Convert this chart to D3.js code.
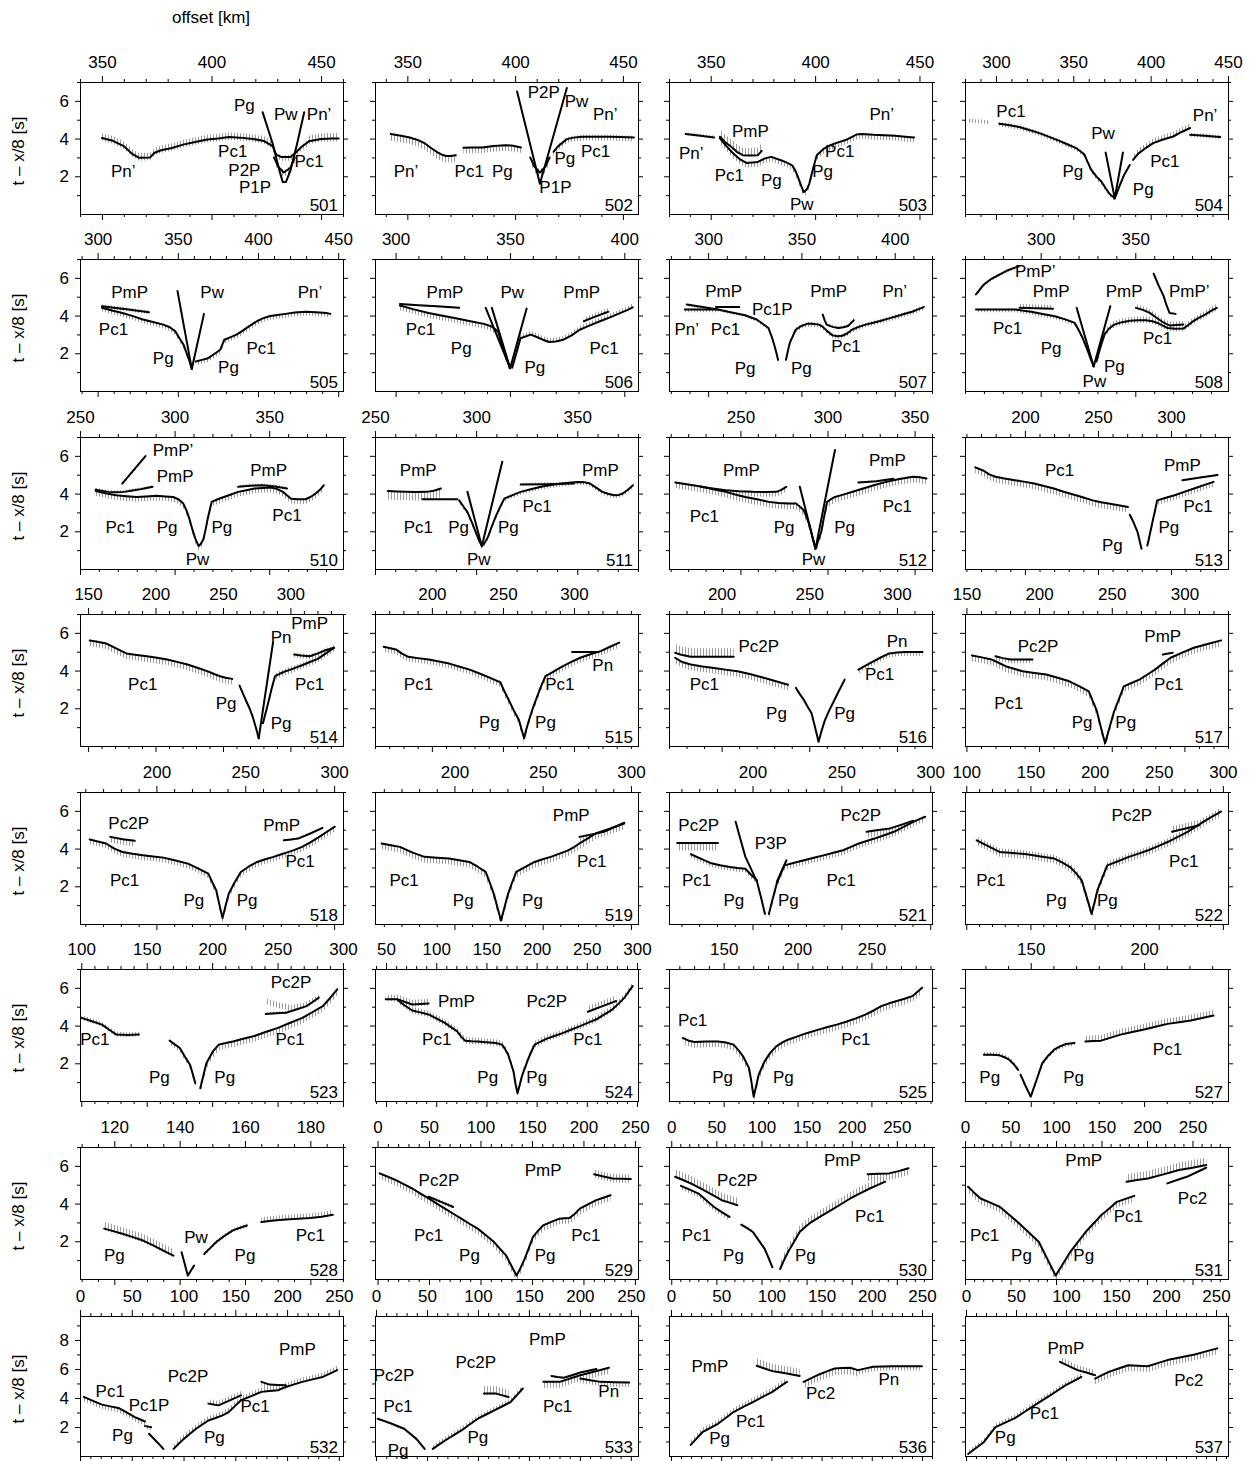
<!DOCTYPE html>
<html>
<head>
<meta charset="utf-8">
<script src="https://cdn.jsdelivr.net/npm/d3@7"></script>
<style>
  body { margin: 0; background: #fff; }
  svg text { font-family: "Liberation Sans", Arial, Helvetica, sans-serif; font-size: 17px; fill: #000; }
</style>
</head>
<body>
<svg id="fig" width="1252" height="1461"></svg>
<script>
// Reduced traveltimes (t - x/8, s) against offset (km) for each station record.
// Each trace: pts = [offset, time] along a modelled branch; band = [below, above] spread of picks (s);
// line:false means observed picks only.

const panelIds = [501,502,503,504,505,506,507,508,510,511,512,513,514,515,516,517,518,519,521,522,523,524,525,527,528,529,530,531,532,533,536,537];

const offsetRanges = [[340,460],[335,457],[330,456],[280,450],[289,453],[291,406],[279,420],[260,399],
  [250,389],[250,380],[209,360],[159,339],[144,339],[160,345],[170,320],[149,330],
  [157,305],[155,304],[153,301],[99,304],[99,300],[39,301],[113,291],[121,237],
  [109.5,190],[-2.5,253],[-2.5,289],[0,289],[0,254],[-1,257],[-2,260],[-1,262]];

const labelSteps = [50,50,50,50,50,50,50,50,50,50,50,50,50,50,50,50,50,50,50,50,50,50,50,50,20,50,50,50,50,50,50,50];
const minorSteps = [10,10,10,10,10,10,10,10,10,10,10,10,10,10,10,10,10,10,10,10,10,10,10,10,5,10,10,10,10,10,10,10];

const timeTicks = [1,2,3,4,5,6,7];
const timeTicksLast = [1,2,3,4,5,6,7,8,9];
const timeLabels = [2,4,6];
const timeLabelsLast = [2,4,6,8];

const tr501 = [
  {pts:[[350,4.03],[355,3.88],[360,3.6],[364,3.17],[367,2.98],[372,3.0],[374,3.25],[377,3.38],[382,3.5],[387,3.68],[392,3.8],[398,3.95],[403,4.0],[408,4.08],[413,4.05],[419,3.98],[424,3.87],[427.9,3.6]], band:[0.15,0.25]},
  {pts:[[427.9,3.6],[429.5,3.15],[432,3.02],[436,3.02],[438,3.2],[441,3.55],[444.5,3.86]], band:[0.2,0.1]},
  {pts:[[444.5,3.86],[450,3.98],[455,4.0],[458,4.0]], band:[0.15,0.3]},
  {pts:[[428.5,3.0],[430.5,2.5],[433,2.2],[436,2.45],[438,3.0]], band:[0.25,0.1]},
  {pts:[[423.3,5.4],[428,3.7],[431,2.3],[432.5,1.7],[434,1.7],[436,2.3],[439,3.7],[442.3,5.4]]}
];
const ph501 = [["Pg",415,5.75],["Pw",433.9,5.27],["Pn\u2019",449.1,5.27],["Pc1",409.7,3.33],["P2P",415,2.32],["P1P",419.9,1.38],["Pc1",444.5,2.8],["Pn\u2019",359.7,2.27]];

const tr502 = [
  {pts:[[342.3,4.24],[347,4.15],[351.1,4.06],[355,3.92],[358.2,3.74],[361,3.5],[363.6,3.3],[366,3.15],[368,3.08],[370,3.08],[372.5,3.12]], band:[0.35,0.05]},
  {pts:[[376,3.51],[380,3.52],[384.9,3.53],[390,3.6],[395.6,3.65],[399,3.62],[402.7,3.53]], band:[0.3,0.05]},
  {pts:[[400.9,6.5],[411.5,1.6],[424,6.68]]},
  {pts:[[407,3.0],[409,2.5],[411.5,2.2],[414,2.5],[416,3.0]], band:[0.3,0.15]},
  {pts:[[417.8,3.3],[420,3.6],[424,3.97],[427,4.05],[431.1,4.1],[437,4.1],[443.5,4.1],[449,4.08],[455.1,4.06]], band:[0.2,0.1]}
];
const ph502 = [["Pn\u2019",349.4,2.23],["Pc1",378.7,2.23],["Pg",394.1,2.23],["P2P",413.3,6.42],["Pw",428.5,5.97],["Pn\u2019",441.8,5.26],["Pc1",437.3,3.3],["Pg",423.1,2.94],["P1P",418.7,1.43]];

const tr503 = [
  {pts:[[338,4.24],[345,4.15],[351.6,4.06]], band:[0.05,0.1]},
  {pts:[[354.4,4.1],[357,3.8],[359.8,3.57],[362.5,3.3],[365.3,3.12],[369,3.1],[372.6,3.12],[374.4,3.35]], band:[0.05,0.4]},
  {pts:[[354.4,4.01],[357.5,3.6],[360.8,3.21],[364,2.9],[367.1,2.71],[372.6,2.76],[376,2.95],[379,3.03],[381,2.95],[383.6,2.85],[386,2.75],[389,2.58],[390.5,2.3],[391.8,1.96],[393.3,1.5],[394.5,1.16],[396,1.3],[397.2,1.6],[399,2.4],[400.8,3.12],[404,3.45],[407.3,3.65],[411,3.8],[414.6,3.92],[417.5,4.08],[420,4.22],[421.9,4.24],[428,4.2],[433,4.18],[438.3,4.15],[443,4.1],[447.4,4.06]], band:[0.25,0.05]}
];
const ph503 = [["Pn\u2019",340.7,3.21],["PmP",369,4.37],["Pc1",358.9,2.05],["Pg",379,1.78],["Pg",403.6,2.23],["Pw",393.6,0.53],["Pc1",411.8,3.3],["Pn\u2019",431.9,5.26]];

const tr504 = [
  {pts:[[281.5,4.95],[288,4.93],[295.6,4.86]], band:[0.1,0.1], line:false},
  {pts:[[302.1,4.79],[308,4.72],[315.1,4.61],[321,4.47],[328.1,4.29],[334,4.1],[341,3.88],[346,3.7],[351.9,3.49],[355,3.3],[357.3,3.14],[359,2.8],[361.6,2.34],[365,1.98],[368.1,1.72],[371,1.35],[373.5,1.06],[376.8,0.83]], band:[0.15,0.1]},
  {pts:[[376.8,0.83],[380,1.5],[383,2.1],[386.5,2.6]]},
  {pts:[[370.9,3.26],[376.8,0.83],[382.1,3.26]]},
  {pts:[[388.6,2.87],[392,3.2],[396,3.45],[401.6,3.76],[408,3.95],[414.6,4.11],[420,4.35],[425.5,4.56]], band:[0.05,0.25]},
  {pts:[[425.5,4.2],[435,4.15],[444.9,4.08]], band:[0.1,0.1]}
];
const ph504 = [["Pc1",309.7,5.44],["Pw",369.2,4.29],["Pn\u2019",435.2,5.21],["Pg",349.7,2.25],["Pg",395.2,1.28],["Pc1",409.2,2.78]];

const tr505 = [
  {pts:[[302.7,4.5],[310,4.42],[318,4.33],[325,4.25],[332,4.18]], band:[0.1,0.1]},
  {pts:[[302.7,4.41],[309,4.27],[315.4,4.14],[322,3.97],[328.2,3.79],[334.5,3.66],[340.9,3.52],[345,3.38],[348.5,3.16],[351,2.8],[353.6,2.45],[355.5,2.0],[357.4,1.56],[358.7,1.17]], band:[0.2,0.05]},
  {pts:[[349.8,5.3],[358.7,1.17],[366.3,4.09]]},
  {pts:[[361.2,1.56],[365,1.65],[368.9,1.74],[372.5,1.95],[376.5,2.19],[379,2.72],[383,2.86],[386.6,2.99],[390.5,3.2],[394.3,3.43],[399.3,3.7],[403,3.85],[407,3.96],[412,4.03],[417.2,4.09],[423,4.16],[429.9,4.2],[436,4.18],[442.6,4.14],[445.1,4.09]], band:[0.2,0.05]}
];
const ph505 = [["PmP",320,5.21],["Pw",371.4,5.21],["Pn\u2019",432.4,5.21],["Pc1",309.9,3.25],["Pg",340.9,1.71],["Pg",381.6,1.24],["Pc1",401.9,2.28]];

const tr506 = [
  {pts:[[301.9,4.62],[310,4.55],[318,4.49],[327.8,4.41]], band:[0.05,0.05]},
  {pts:[[301.9,4.53],[308,4.33],[314.4,4.14],[320.5,3.99],[326.9,3.84],[332.7,3.7],[338.6,3.56],[342,3.42],[344.8,3.16],[346.5,2.5],[348.4,1.74],[350.1,1.21]], band:[0.25,0.05]},
  {pts:[[339.4,4.41],[350.1,1.21]]},
  {pts:[[342.1,4.41],[350.1,1.21],[357.3,4.37]]},
  {pts:[[351,1.24],[352.8,2.0],[354.6,2.8],[359.1,2.99],[362,2.85],[364.4,2.72],[367.1,2.6],[370,2.63],[373.4,2.72],[377,2.95],[380.5,3.25],[385,3.48],[389.4,3.7],[394,3.92],[398.4,4.14],[401,4.28],[403.7,4.44]], band:[0.05,0.2]},
  {pts:[[382.3,3.7],[387,3.93],[393,4.2]], band:[0.05,0.2]}
];
const ph506 = [["PmP",321.6,5.21],["Pw",351,5.21],["PmP",381.4,5.21],["Pc1",310.9,3.25],["Pg",328.7,2.28],["Pg",360.9,1.24],["Pc1",391.2,2.28]];

const tr507 = [
  {pts:[[287.5,4.32],[296,4.32],[305.2,4.32]], band:[0.15,0.05]},
  {pts:[[288.5,4.59],[297,4.45],[305.2,4.32],[312,4.18],[319.8,4.02],[323,3.9],[326,3.79],[329,3.58],[332.3,3.34],[334,2.9],[335.4,2.45],[336.5,2.05],[337.5,1.65]], band:[0.1,0.05]},
  {pts:[[304.2,4.46],[316.7,4.46]]},
  {pts:[[341.7,1.65],[342.7,2.1],[343.7,2.54],[345.3,2.9],[346.9,3.25],[350,3.45],[353.1,3.56],[356.3,3.56],[359.4,3.52],[361.5,3.4],[363.5,3.2],[366.7,2.95],[369.3,2.9],[371.9,2.93],[374.5,3.05],[377.1,3.25],[380.7,3.4],[384.4,3.52],[388.5,3.62],[392.7,3.73],[397,3.85],[401,3.96],[405,4.08],[409.3,4.2],[412.5,4.33],[415.6,4.45]], band:[0.15,0.1]},
  {pts:[[361.4,4.05],[362.5,3.75],[363.5,3.52],[366.7,3.4],[369.8,3.34],[372.5,3.38],[375,3.45],[376.5,3.6],[378.1,3.75]], band:[0.05,0.1]}
];
const ph507 = [["PmP",308.3,5.3],["Pn\u2019",288.5,3.25],["Pc1",309.3,3.25],["Pc1P",334.4,4.32],["Pg",319.8,1.21],["Pg",350,1.21],["PmP",364.6,5.3],["Pn\u2019",400,5.3],["Pc1",373.9,2.36]];

const tr508 = [
  {pts:[[265.8,5.12],[268,5.4],[270,5.65],[274,5.95],[278.4,6.19],[283,6.42],[288.8,6.63]], band:[0.1,0.05]},
  {pts:[[265.8,4.32],[276,4.32],[286.7,4.32],[291,4.26],[295,4.2],[301,4.08],[307.5,3.96],[313,3.8],[318,3.61],[320,3.25],[322.2,2.81],[324.3,2.28],[326.3,1.74],[328,1.3]], band:[0.15,0.05]},
  {pts:[[288.8,4.41],[297,4.39],[306.5,4.36]], band:[0,0.2]},
  {pts:[[319,4.41],[328,1.3],[336.8,4.5]]},
  {pts:[[329.5,1.56],[331.5,2.3],[333.7,2.99],[336,3.3],[338.9,3.52],[343,3.65],[347.2,3.73],[351.5,3.75],[355.6,3.75],[359,3.7],[361.8,3.61],[364.5,3.47],[367.1,3.34],[371,3.3],[375.4,3.31],[378,3.5],[380.6,3.7],[384,3.9],[386.9,4.05],[390,4.25],[393.1,4.41]], band:[0.15,0.2]},
  {pts:[[350.3,4.41],[354,4.3],[357.6,4.14],[361,3.9],[363.9,3.7],[366,3.57],[368.1,3.48],[372,3.5],[375.4,3.52]], band:[0.05,0.2]},
  {pts:[[359.7,6.22],[362.3,5.6],[365,5.03],[366.5,4.55],[368.1,4.14],[371.3,4.09]]}
];
const ph508 = [["PmP\u2019",297.1,6.36],["PmP",305.5,5.3],["PmP",344.1,5.3],["PmP\u2019",378.5,5.3],["Pc1",282.5,3.34],["Pg",305.5,2.28],["Pg",338.9,1.3],["Pw",328.4,0.5],["Pc1",361.8,2.81]];

const tr510 = [
  {pts:[[272.3,4.53],[277.7,5.16],[284.6,5.99]], band:[0.1,0]},
  {pts:[[258.3,4.21],[264.8,4.09],[269,4.07],[273.4,4.09],[277,4.15],[280.9,4.21],[284.5,4.28],[288.4,4.36]], band:[0.05,0.1]},
  {pts:[[258.3,4.14],[264,4.0],[269.1,3.91],[274.5,3.86],[279.8,3.82],[285,3.85],[290.6,3.88],[295,3.85],[299.2,3.82],[302,3.7],[304.6,3.47],[306.3,3.1],[307.8,2.67],[309.4,2.1],[311,1.6],[312.7,1.21],[314,1.35],[315.3,1.6],[316.4,2.1],[317.5,2.67],[318.5,3.1],[319.6,3.56],[322.8,3.7],[326.1,3.82],[329.8,3.95],[333.6,4.09],[338,4.18],[342.2,4.27],[346.5,4.3],[350.8,4.32],[354,4.25],[357.3,4.09],[359.5,3.9],[361.6,3.73],[365,3.7],[369.1,3.7],[371.8,3.82],[374.5,4.0],[376.8,4.2],[378.8,4.44]], band:[0.25,0.05]},
  {pts:[[333.6,4.36],[340,4.42],[346.5,4.44],[353,4.38],[359.4,4.27]], band:[0.05,0.1]}
];
const ph510 = [["PmP\u2019",299.2,6.26],["PmP",300.3,4.89],["PmP",349.7,5.24],["Pc1",271.2,2.22],["Pg",296,2.22],["Pg",325,2.22],["Pw",312.1,0.53],["Pc1",359.4,2.84]];

const tr511 = [
  {pts:[[256.3,4.14],[261,4.11],[265.4,4.09],[270,4.08],[275.5,4.09],[279,4.15],[282.6,4.27]], band:[0.45,0]},
  {pts:[[273.5,3.7],[282,3.7],[290.7,3.7]], band:[0.05,0.05]},
  {pts:[[291.6,3.64],[293.8,3.3],[295.7,3.02],[297.8,2.5],[299.8,1.96],[301.3,1.55],[302.8,1.21],[304.3,1.4],[305.8,1.69],[307.9,2.3],[309.9,2.84],[311.9,3.3],[313.9,3.73],[318,3.92],[322,4.09],[327,4.23],[332.1,4.36],[337,4.45],[342.2,4.53],[346,4.58],[350.3,4.62],[353.5,4.6],[356.3,4.53],[359.5,4.3],[362.4,4.09],[365.5,3.98],[368.4,3.91],[370.5,3.93],[372.5,4.0],[375,4.2],[377.5,4.44]], band:[0.15,0.05]},
  {pts:[[322,4.48],[335,4.5],[348.2,4.53]], band:[0.05,0.1]},
  {pts:[[295.7,4.09],[302.8,1.21],[312.9,5.69]]}
];
const ph511 = [["PmP",271.4,5.24],["PmP",361.4,5.24],["Pc1",271.4,2.22],["Pg",291.3,2.22],["Pg",315.9,2.22],["Pw",301.3,0.53],["Pc1",330.1,3.29]];

const tr512 = [
  {pts:[[227,4.36],[234,4.27],[241.6,4.18],[249,4.12],[257.3,4.09],[264,4.08],[270.7,4.09],[273.5,4.2],[276.3,4.36]], band:[0.25,0.05]},
  {pts:[[212.6,4.59],[220,4.48],[228.2,4.36],[235,4.22],[241.6,4.09],[247,3.95],[252.8,3.82],[259.5,3.7],[266.2,3.56],[272,3.5],[277.4,3.47],[281.9,3.47],[284.2,3.3],[286.4,3.11],[288,2.75],[289.7,2.31],[291.5,1.65],[293.1,1.07],[294.7,1.5],[296.4,1.96],[298,2.75],[299.8,3.56],[302,3.7],[304.3,3.82],[310,3.97],[315.4,4.12],[321,4.28],[326.6,4.44],[332,4.58],[337.8,4.71],[343,4.8],[349,4.89],[353,4.86],[356.8,4.8]], band:[0.3,0.05]},
  {pts:[[284.1,4.36],[293.1,1.07],[304.3,6.31]]},
  {pts:[[317.7,4.59],[328,4.65],[337.8,4.78]], band:[0.05,0.05]}
];
const ph512 = [["PmP",250.6,5.24],["PmP",334.4,5.78],["Pc1",229.3,2.76],["Pg",275.1,2.22],["Pg",309.8,2.22],["Pw",292,0.53],["Pc1",340.1,3.29]];

const tr513 = [
  {pts:[[166,5.39],[171.8,5.21],[175.5,5.02],[179.8,4.89],[186,4.8],[193.1,4.71],[200,4.62],[206.4,4.53],[213,4.4],[219.8,4.27],[226.5,4.1],[233.1,3.95],[240,3.79],[246.4,3.64],[252,3.54],[257.2,3.47],[264,3.38],[270.5,3.29]], band:[0.3,0.05]},
  {pts:[[271.8,2.88],[274.5,2.45],[277.1,1.96],[278.5,1.5],[279.8,1.07]], band:[0.05,0.05]},
  {pts:[[283.8,1.24],[285.8,1.95],[287.8,2.67],[289.2,3.15],[290.5,3.64],[296.5,3.78],[302.5,3.91],[309,4.09],[315.8,4.27],[322.5,4.45],[329.1,4.62]], band:[0.25,0.05]},
  {pts:[[307.8,4.71],[320,4.85],[331.8,4.98]], band:[0.05,0.05]}
];
const ph513 = [["Pc1",223.8,5.24],["PmP",307.8,5.51],["Pc1",318.5,3.29],["Pg",298.5,2.22],["Pg",259.8,1.24]];

const tr514 = [
  {pts:[[151.2,5.6],[157,5.53],[163.3,5.44],[170,5.2],[178.4,4.91],[186,4.83],[193.5,4.76],[201,4.68],[208.6,4.59],[216,4.46],[223.7,4.32],[231,4.15],[238.8,3.96],[243,3.83],[247.8,3.7],[252,3.62],[256.9,3.56]], band:[0.3,0.05]},
  {pts:[[262.3,3.2],[265,2.75],[267.4,2.36],[270,1.95],[272,1.56],[274.5,0.95],[276.5,0.41]], band:[0.05,0.05]},
  {pts:[[279.6,1.21],[282,1.85],[284.1,2.45],[286.3,3.1],[288.6,3.7],[292,3.83],[296.2,3.96],[302,4.1],[308.2,4.27],[314,4.44],[320.3,4.62],[326,4.9],[332.4,5.21]], band:[0.2,0.15]},
  {pts:[[276.5,0.41],[287.1,5.48]]},
  {pts:[[302.8,4.85],[308,4.8],[314.3,4.76],[320,4.9],[326,5.08],[332.4,5.21]], band:[0.15,0.1]}
];
const ph514 = [["Pn",293.1,5.74],["PmP",314.3,6.51],["Pc1",190.5,3.25],["Pc1",314.3,3.25],["Pg",252.3,2.28],["Pg",293.1,1.21]];

const tr515 = [
  {pts:[[166.1,5.26],[170,5.2],[174.7,5.12],[179,4.9],[183.4,4.73],[190,4.66],[197.8,4.59],[205,4.48],[212.2,4.37],[219,4.22],[226.6,4.05],[234,3.83],[241,3.61],[245,3.48],[248.2,3.38],[251,2.9],[254,2.45],[257.5,1.9],[261.2,1.39],[263,0.9],[264.9,0.41],[266.5,0.9],[268.4,1.39],[271,2.0],[274.1,2.63],[277,3.2],[279.9,3.7],[285,3.92],[290,4.14],[297,4.42],[304.4,4.68],[311,4.85],[318.8,5.03],[325,5.25],[331.8,5.48]], band:[0.25,0.05]},
  {pts:[[298.6,4.98],[308,4.98],[317.4,4.98]]}
];
const ph515 = [["Pc1",190.6,3.25],["Pc1",290,3.25],["Pn",320.2,4.27],["Pg",240.5,1.24],["Pg",279.9,1.24]];

const tr516 = [
  {pts:[[173.5,4.94],[177,4.84],[182.4,4.73],[195,4.73],[206.9,4.73]], band:[0.05,0.45]},
  {pts:[[173.5,4.68],[177.5,4.45],[182.4,4.32],[189,4.22],[195.7,4.14],[202,4.05],[209.1,3.96],[216,3.82],[222.4,3.66],[230,3.46],[237.9,3.25]], band:[0.3,0.05]},
  {pts:[[242.4,3.08],[244.6,2.75],[246.9,2.45],[249,2.1],[251.3,1.74],[253.3,1.0],[255.3,0.23],[257,0.8],[259,1.39],[261.2,1.85],[263.5,2.28],[266.8,2.9],[270.2,3.52]], band:[0.05,0.05]},
  {pts:[[278,4.05],[282.4,4.28],[286.8,4.5],[291.3,4.72],[295.7,4.91],[300,4.96],[304.6,4.98],[309.6,4.98],[314.6,4.98]], band:[0.2,0.05]}
];
const ph516 = [["Pc2P",221.2,5.3],["Pn",300.1,5.56],["Pc1",190.2,3.25],["Pc1",290.1,3.79],["Pg",231.3,1.74],["Pg",270.2,1.74]];

const tr517 = [
  {pts:[[153.8,4.8],[160.5,4.7],[167.2,4.59],[172.5,4.4],[178,4.2],[183.3,4.08],[188.6,3.96],[196.7,3.87],[204.8,3.79],[212.8,3.62],[220.8,3.43],[227.5,3.18],[234.2,2.9],[236.8,2.4],[239.5,1.92],[242.5,1.0],[245.4,0.14],[248.5,1.0],[251.6,1.83],[255,2.5],[258.3,3.16],[263.6,3.34],[269,3.52],[274.3,3.78],[279.7,4.05],[285.1,4.37],[290.5,4.68],[298.5,4.95],[306.5,5.21],[316,5.41],[325.3,5.6]], band:[0.3,0.05]},
  {pts:[[169.9,4.76],[175,4.66],[180.6,4.59],[188,4.59],[195.4,4.59]], band:[0.2,0.05]},
  {pts:[[285.1,4.85],[291.9,4.94]]}
];
const ph517 = [["Pc2P",199.3,5.3],["PmP",285.1,5.83],["Pc1",179.2,2.28],["Pc1",289.2,3.25],["Pg",229.6,1.24],["Pg",259.6,1.24]];

const tr518 = [
  {pts:[[174,4.62],[181,4.5],[187.8,4.41]], band:[0.3,0.05]},
  {pts:[[162.5,4.48],[167,4.38],[171.7,4.27],[176.3,4.0],[180.9,3.82],[186.6,3.72],[192.4,3.64],[198.1,3.58],[203.9,3.52],[210.8,3.37],[217.7,3.2],[223.4,2.95],[229.2,2.67],[231.5,2.2],[233.7,1.78],[235.5,1.0],[237.2,0.32],[239,1.0],[240.7,1.6],[244,2.2],[247.5,2.76],[252,3.05],[256.7,3.29],[261.3,3.43],[265.9,3.56],[269.4,3.67],[272.8,3.77],[277.4,3.92],[282,4.09],[286.6,4.33],[291.2,4.59],[295.8,4.88],[300.4,5.16]], band:[0.25,0.05]},
  {pts:[[271.7,4.44],[275.7,4.48],[279.7,4.53],[286.6,4.8],[293.5,5.1]], band:[0.05,0.05]}
];
const ph518 = [["Pc2P",184.4,5.33],["PmP",270.5,5.24],["Pc1",182.1,2.31],["Pc1",280.9,3.29],["Pg",221.1,1.24],["Pg",251,1.24]];

const tr519 = [
  {pts:[[158.7,4.27],[163.9,4.18],[169.1,4.09],[176,3.8],[183,3.56],[190,3.51],[196.9,3.47],[202.7,3.38],[208.4,3.29],[213,3.05],[217.7,2.76],[220,2.2],[222.3,1.6],[224.3,0.9],[226.4,0.18],[228.4,0.9],[230.4,1.6],[232.7,2.2],[235,2.76],[240.2,3.03],[245.4,3.29],[250,3.43],[254.6,3.56],[259.2,3.72],[263.8,3.88],[267.3,4.05],[270.8,4.27],[275.4,4.53],[280,4.8],[288,5.06],[296.2,5.33]], band:[0.3,0.05]},
  {pts:[[270.8,4.62],[277.7,4.75],[284.7,4.89],[290.5,5.13],[296.2,5.37]], band:[0.2,0.05]}
];
const ph519 = [["PmP",266.2,5.78],["Pc1",171.5,2.31],["Pc1",277.8,3.29],["Pg",205,1.24],["Pg",244.2,1.24]];

const tr521 = [
  {pts:[[157.6,4.3],[169,4.3],[180.6,4.3]], band:[0.4,0.05]},
  {pts:[[165.3,3.7],[170.8,3.47],[176.2,3.24],[181.7,3.12],[187.2,3.02],[191.6,2.97],[196,2.93],[199.3,2.6],[202.6,2.31]], band:[0.2,0.05]},
  {pts:[[190.5,5.42],[193.2,4.5],[196,3.56],[199.3,2.9],[202.6,2.22],[204.8,1.4],[207,0.53]], band:[0.05,0.05]},
  {pts:[[209.2,0.53],[211.4,1.35],[213.6,2.13],[215.8,2.65],[218,3.11],[223.5,3.25],[229,3.38],[234.5,3.51],[240,3.64],[245.5,3.78],[251,3.91],[255.4,4.09],[259.8,4.27],[264.2,4.4],[268.6,4.53],[274.1,4.71],[279.6,4.89],[285,5.15],[290.5,5.42],[293.9,5.56],[297.2,5.69]], band:[0.25,0.05]},
  {pts:[[264.2,4.89],[270.8,4.98],[277.4,5.07],[284,5.27],[290.5,5.48]], band:[0.3,0.05]},
  {pts:[[219.1,3.38],[213.6,2.22]]}
];
const ph521 = [["Pc2P",169.7,5.24],["P3P",210.3,4.27],["Pc2P",260.9,5.78],["Pc1",168.5,2.31],["Pc1",249.9,2.31],["Pg",189.5,1.24],["Pg",220.2,1.24]];

const tr522 = [
  {pts:[[108.1,4.44],[117,4.13],[125.9,3.82],[136.5,3.76],[147.2,3.7],[158,3.58],[168.7,3.47],[175,3.25],[180.9,3.02],[185.5,2.7],[190,2.31],[194,1.4],[197.7,0.53],[200,1.15],[202.2,1.78],[206,2.45],[209.9,3.11],[218.3,3.33],[226.7,3.56],[234.3,3.73],[241.9,3.91],[249.6,4.13],[257.3,4.36],[264.9,4.62],[272.5,4.89],[278.6,5.15],[284.7,5.42],[291.6,5.69],[298.5,5.96]], band:[0.25,0.2]},
  {pts:[[260.3,4.89],[271,5.06],[281.6,5.24]], band:[0.05,0.3]}
];
const ph522 = [["Pc2P",229.1,5.78],["Pc1",269.5,3.29],["Pc1",119.2,2.31],["Pg",170.1,1.24],["Pg",209.9,1.24]];

const tr523 = [
  {pts:[[100.2,4.41],[108,4.23],[115.8,4.05],[121.3,3.78],[126.8,3.52],[135.4,3.5],[144,3.52]], band:[0.1,0.15]},
  {pts:[[167.5,3.2],[171.4,3.0],[175.3,2.81],[179.2,2.35],[183.1,1.92],[185.1,1.45],[187.1,0.94]], band:[0.2,0.05]},
  {pts:[[190.9,0.68],[193.3,1.35],[195.6,2.0],[200.3,2.6],[205,2.99],[210.5,3.08],[215.9,3.16],[223.7,3.3],[231.5,3.43],[240.9,3.66],[250.3,3.88],[259.7,4.15],[269,4.41],[276.8,4.72],[284.6,5.03],[290,5.45],[295.6,5.92]], band:[0.3,0.05]},
  {pts:[[240.9,4.62],[248.7,4.65],[256.5,4.68],[264.3,4.85],[272.1,5.03],[276.8,5.25],[281.5,5.48]], band:[0.05,0.1]},
  {pts:[[240.9,5.3],[250,5.1],[260,4.95],[270,5.05],[281.5,5.48]], band:[0.15,0.15], line:false}
];
const ph523 = [["Pc2P",260.3,6.28],["Pc1",110.3,3.25],["Pc1",259.6,3.25],["Pg",159.6,1.24],["Pg",209.6,1.24]];

const tr524 = [
  {pts:[[49.7,5.39],[61.9,5.39],[69,5.25],[76.1,5.12],[84,5.14],[92.4,5.17]], band:[0.1,0.25]},
  {pts:[[61.9,5.33],[69,5.05],[76.1,4.8],[84,4.7],[92.4,4.59],[100.5,4.37],[108.6,4.14],[114.7,3.92],[120.8,3.7],[125,3.4],[128.9,3.2],[135,3.17],[141.2,3.16],[150,3.12],[159.4,3.08],[165.5,2.99],[168.6,2.75],[171.7,2.45],[174.4,2.0],[177,1.56],[179,0.9],[181,0.41],[183.4,0.9],[185.8,1.39],[189,1.85],[192,2.28],[195,2.65],[198.1,2.99],[204,3.15],[210.2,3.31],[218.4,3.46],[226.6,3.61],[234.7,3.79],[242.8,3.96],[250.9,4.14],[259.1,4.32],[267.2,4.58],[275.3,4.85],[281.4,5.15],[287.5,5.48],[295.7,6.1]], band:[0.15,0.2]},
  {pts:[[251,4.73],[257,4.85],[263.1,4.98],[271,5.14],[279.3,5.3]], band:[0.05,0.3]}
];
const ph524 = [["PmP",120,5.3],["Pc2P",210.2,5.3],["Pc1",100.5,3.25],["Pc1",251,3.25],["Pg",151.3,1.24],["Pg",200.1,1.24]];

const tr525 = [
  {pts:[[122.4,3.34],[126.3,3.2],[130.3,3.13],[138,3.15],[146.1,3.16],[151.5,3.1],[156.7,2.99],[160,2.7],[163.2,2.36],[165.2,2.05],[167.2,1.74],[168.8,1.0],[170.3,0.23],[172,0.8],[173.7,1.39],[175.7,1.75],[177.7,2.1],[181.5,2.55],[185.6,2.9],[189.5,3.1],[193.5,3.25],[200,3.43],[206.7,3.61],[213,3.76],[219.8,3.91],[226.5,4.05],[232.9,4.2],[239.5,4.38],[246.2,4.59],[251.5,4.8],[256.7,5.03],[262,5.18],[267.2,5.3],[272.5,5.42],[277.7,5.56],[281,5.78],[284.3,6.01]], band:[0.3,0.05]}
];
const ph525 = [["Pc1",129,4.27],["Pc1",239.5,3.25],["Pg",149.3,1.24],["Pg",190.4,1.24]];

const tr527 = [
  {pts:[[129.3,2.45],[132.8,2.45],[136.2,2.42],[138.4,2.32],[140.5,2.19],[142.5,1.95],[144.4,1.65]], band:[0.05,0.15]},
  {pts:[[145.5,1.4],[147.5,0.85],[150,0.23],[152.5,1.1],[155.1,2.01],[157.7,2.4],[160.3,2.72],[162.9,2.9],[165.5,3.02],[169.3,3.08]], band:[0.15,0.05]},
  {pts:[[174.1,3.16],[177.5,3.18],[181,3.2],[185.3,3.36],[189.6,3.52],[194.8,3.66],[200,3.79],[205,3.94],[210.3,4.09],[215.4,4.18],[220.6,4.27],[225.6,4.4],[230.6,4.53]], band:[0.05,0.3]}
];
const ph527 = [["Pc1",210.3,2.72],["Pg",131.9,1.24],["Pg",168.9,1.24]];

const tr528 = [
  {pts:[[116.9,2.67],[119.7,2.54],[122.5,2.4],[125.7,2.22],[128.8,2.04],[131.9,1.78],[135,1.51],[138.1,1.24]], band:[0.1,0.35]},
  {pts:[[140.6,1.42],[142.5,0.18],[144.4,0.71]]},
  {pts:[[147.5,1.33],[149.4,1.65],[151.2,1.96],[153.8,2.3],[156.3,2.58],[158.5,2.72],[160.6,2.84]], band:[0.1,0.1]},
  {pts:[[165,3.02],[168.8,3.1],[172.5,3.16],[176.2,3.2],[180,3.24],[183.5,3.3],[186.9,3.41]], band:[0.05,0.25]}
];
const ph528 = [["Pw",145,2.22],["Pg",120,1.24],["Pg",160,1.24],["Pc1",180,2.31]];

const tr529 = [
  {pts:[[2,5.6],[10,5.42],[17.8,5.24],[25.8,5.02],[33.7,4.8],[41.7,4.53],[49.6,4.27],[57.5,4.0],[65.5,3.73],[73.5,3.46],[81.4,3.2],[89.3,2.93],[97.3,2.67],[105.2,2.32],[113.2,1.96],[119,1.6],[125,1.24],[130,0.7],[135,0.18],[139,0.6],[142.9,1.07],[147,1.65],[150.9,2.22],[155.8,2.55],[160.8,2.84],[168.8,3.03],[176.7,3.2],[181.6,3.22],[186.6,3.24],[191.5,3.45],[196.5,3.73],[204.4,3.96],[212.4,4.18],[219.4,4.31],[226.3,4.44]], band:[0.3,0.05]},
  {pts:[[49.6,4.36],[61.6,4.09],[73.5,3.82]], band:[0.1,0.1]},
  {pts:[[210.4,5.55],[219.4,5.44],[228.3,5.33],[237.2,5.31],[246.1,5.3]], band:[0.2,0.25]}
];
const ph529 = [["Pc2P",59.6,5.24],["PmP",160.8,5.78],["Pc1",49.6,2.31],["Pc1",202.4,2.31],["Pg",89.3,1.24],["Pg",162.8,1.24]];

const tr530 = [
  {pts:[[4.3,5.42],[13,5.25],[21.6,5.07],[32.4,4.8],[43.1,4.53],[49.6,4.35],[56,4.18],[64.6,4.05],[73.3,3.91]], band:[0.05,0.4]},
  {pts:[[10.7,4.94],[20.5,4.74],[30.2,4.53],[38.8,4.17],[47.4,3.82],[56,3.55],[64.6,3.29]], band:[0.2,0.05]},
  {pts:[[77.6,2.88],[84,2.7],[90.5,2.49],[97,2.05],[103.5,1.6],[108,1.1],[112.1,0.62]], band:[0.05,0.1]},
  {pts:[[120.7,0.53],[125,1.0],[129.3,1.42],[135.8,1.95],[142.3,2.49],[148.7,2.77],[155.2,3.02],[166,3.33],[176.8,3.64],[187.6,3.95],[198.4,4.27],[209.2,4.54],[220,4.8],[228.5,4.98],[237.1,5.16]], band:[0.05,0.35]},
  {pts:[[217.7,5.55],[229.6,5.58],[241.4,5.6],[252,5.72],[263,5.87]], band:[0.35,0.05]}
];
const ph530 = [["PmP",189.7,6.31],["Pc2P",73.3,5.24],["Pc1",28,2.31],["Pc1",220,3.29],["Pg",69,1.24],["Pg",148.7,1.24]];

const tr531 = [
  {pts:[[3.4,4.89],[10,4.58],[17.1,4.27],[27.8,4.05],[38.5,3.82],[49.2,3.38],[59.9,2.93],[70.5,2.45],[81.2,1.96],[90.4,1.07],[99.6,0.18],[107.5,0.8],[115.5,1.42],[124,1.95],[132.5,2.49],[141,2.93],[149.6,3.38],[158.2,3.73],[166.8,4.09],[176.4,4.25],[186,4.41]], band:[0.3,0.05]},
  {pts:[[177.5,5.16],[189,5.25],[201,5.33],[218,5.55],[235.1,5.78],[250,5.9],[265.1,6.04]], band:[0.05,0.4]},
  {pts:[[222.3,5.07],[233,5.25],[243.8,5.42],[254.5,5.66],[265.1,5.9]]}
];
const ph531 = [["PmP",130.5,6.31],["Pc2",250,4.27],["Pc1",179.6,3.29],["Pc1",21.5,2.31],["Pg",62.1,1.24],["Pg",130.5,1.24]];

const tr532 = [
  {pts:[[3.6,4.07],[12.5,3.8],[21.3,3.54],[29.2,3.42],[37.1,3.31],[45,3.0],[52.9,2.68],[57.9,2.53],[62.8,2.38]], band:[0.3,0.05]},
  {pts:[[62.8,2.06],[68.7,1.99]], band:[0.2,0.1]},
  {pts:[[66.7,1.53],[70.6,1.24],[74.6,0.95],[77.6,0.72],[80.5,0.49]]},
  {pts:[[90.4,0.49],[95.3,0.84],[100.3,1.18],[106.2,1.53],[112.1,1.88],[118,2.16],[124,2.45],[130.9,2.62],[137.7,2.8],[143.7,3.03],[149.6,3.44],[155.5,3.84],[165.4,4.13],[175.2,4.42],[183.2,4.48],[191.1,4.53],[198.9,4.76],[206.8,4.94],[214.7,5.11],[224.6,5.28],[234.4,5.45],[241.4,5.68],[248.3,5.92]], band:[0.05,0.3]},
  {pts:[[124,3.61],[128.9,3.55],[133.8,3.49],[144.7,3.84],[155.5,4.18]], band:[0.05,0.3]},
  {pts:[[175.2,5.11],[183.2,4.92],[191,4.9],[198.9,4.88]], band:[0.3,0.05]}
];
const ph532 = [["PmP",210,7.37],["Pc2P",104.3,5.45],["Pc1",29.2,4.42],["Pc1P",66.7,3.49],["Pc1",169.2,3.38],["Pg",41,1.41],["Pg",129.8,1.3]];

const tr533 = [
  {pts:[[1.6,2.57],[8.5,2.4],[15.5,2.22],[21.5,2.05],[27.6,1.88],[33.6,1.53],[39.6,1.18],[43.7,0.83],[47.7,0.49]], band:[0.1,0.05]},
  {pts:[[55.7,0.49],[61.7,0.78],[67.8,1.07],[75.8,1.42],[83.8,1.76],[91.8,2.17],[99.9,2.57],[108,2.86],[116,3.15],[124,3.43],[132,3.72],[138,4.18],[144,4.65]], band:[0.05,0.25]},
  {pts:[[105.9,4.3],[117.9,4.3],[124,4.18],[130,4.07]], band:[0.1,0.5]},
  {pts:[[164.2,5.11],[172.2,5.11],[180.3,5.11],[190.4,5.34],[200.4,5.57],[214.5,5.82],[228.5,6.08]], band:[0.4,0.05]},
  {pts:[[172.1,5.52],[178,5.45],[184.2,5.39],[192.3,5.57],[200.4,5.76],[208.3,5.88],[216.2,5.99]], band:[0.05,0.05]},
  {pts:[[200.4,5.34],[210.3,5.22],[220.3,5.11],[234.3,5.08],[248.4,5.06]], band:[0.3,0.05]}
];
const ph533 = [["Pc2P",17.6,5.52],["Pc1",21.6,3.38],["Pg",21.6,0.37],["Pc2P",97.8,6.45],["PmP",168.1,8.0],["Pc1",178.1,3.38],["Pn",228.3,4.42],["Pg",99.9,1.3]];

const tr536 = [
  {pts:[[19.6,0.77],[25.4,1.2],[31.2,1.64],[39,1.93],[46.7,2.22],[54.5,2.62],[62.3,3.03],[72,3.38],[81.6,3.72],[91.3,4.07],[101,4.42],[108.2,4.77],[115.5,5.11]], band:[0.05,0.3]},
  {pts:[[85.5,6.22],[93.2,6.03],[101,5.85],[108.2,5.77],[115.5,5.69],[121.8,5.6],[128.2,5.52]], band:[0.05,0.5]},
  {pts:[[132.1,5.11],[139.8,5.37],[147.5,5.62],[155.2,5.83],[163,6.03],[170.7,6.06],[178.4,6.08],[186.3,5.92]], band:[0.45,0.05]},
  {pts:[[186.3,5.92],[193.9,6.04],[201.5,6.15],[211,6.17],[220.8,6.19],[235.4,6.19],[250,6.19]], band:[0.3,0.05]}
];
const ph536 = [["PmP",38.7,6.19],["Pc1",79.3,2.38],["Pg",48.4,1.23],["Pc2",149.1,4.3],["Pn",217,5.29]];

const tr537 = [
  {pts:[[2.1,0.14],[10,0.55],[17.8,0.95],[23.6,1.47],[29.5,1.99],[39.2,2.3],[49,2.61],[58.7,3.05],[68.5,3.49],[76.3,3.84],[84.2,4.18],[92,4.53],[99.8,4.88],[107.6,5.16],[115.4,5.45]], band:[0.05,0.25]},
  {pts:[[94,6.49],[102.8,6.2],[111.5,5.92],[120.3,5.75],[129.1,5.57]], band:[0.05,0.35]},
  {pts:[[129.1,5.34],[136,5.57],[142.8,5.8],[152.5,6.03],[162.3,6.26],[172,6.22],[181.8,6.19],[191.6,6.4],[201.4,6.61],[215,6.8],[228.7,7.0],[240,7.21],[251.3,7.42]], band:[0.4,0.05]}
];
const ph537 = [["PmP",99.8,7.42],["Pc1",78.3,2.91],["Pg",39.2,1.3],["Pc2",222.8,5.22]];

const traceSets = [tr501,tr502,tr503,tr504,tr505,tr506,tr507,tr508,tr510,tr511,tr512,tr513,tr514,tr515,tr516,tr517,
  tr518,tr519,tr521,tr522,tr523,tr524,tr525,tr527,tr528,tr529,tr530,tr531,tr532,tr533,tr536,tr537];
const phaseSets = [ph501,ph502,ph503,ph504,ph505,ph506,ph507,ph508,ph510,ph511,ph512,ph513,ph514,ph515,ph516,ph517,
  ph518,ph519,ph521,ph522,ph523,ph524,ph525,ph527,ph528,ph529,ph530,ph531,ph532,ph533,ph536,ph537];

// ---- layout ----
const colLeft = [80, 375, 669, 965];
const rowTop = [82, 259, 437, 614, 792, 969, 1147, 1316];
const panelW = 263;
const FONT = '"Liberation Sans", Arial, Helvetica, sans-serif';

const svg = d3.select("#fig");
const defs = svg.append("defs");

// vertical hatch used for the observed picks
const pat = defs.append("pattern").attr("id", "picks")
  .attr("patternUnits", "userSpaceOnUse").attr("width", 3).attr("height", 20);
pat.append("line").attr("x1", 1.5).attr("x2", 1.5).attr("y1", 0).attr("y2", 20)
  .attr("stroke", "#9c9c9c").attr("stroke-width", 1);

svg.append("text").attr("x", 211).attr("y", 17).attr("text-anchor", "middle")
  .attr("dominant-baseline", "central").text("offset [km]");

function styleAxis(sel) {
  sel.select(".domain").remove();
  sel.attr("font-family", FONT).attr("font-size", 17);
  sel.selectAll("line").attr("stroke", "#000");
  sel.selectAll("text").attr("fill", "#000");
}

panelIds.forEach((id, i) => {
  const col = i % 4, row = Math.floor(i / 4);
  const last = row === 7;
  const h = last ? 140 : 132;
  const tMax = last ? 9.65 : 7;
  const [a, b] = offsetRanges[i];
  const step = labelSteps[i], mstep = minorSteps[i];

  const x = d3.scaleLinear().domain([a, b]).range([0, panelW]);
  const y = d3.scaleLinear().domain([0, tMax]).range([h, 0]);

  const g = svg.append("g").attr("transform", `translate(${colLeft[col]},${rowTop[row]})`);

  const clipId = "clip" + id;
  defs.append("clipPath").attr("id", clipId)
    .append("rect").attr("x", 0).attr("y", 0).attr("width", panelW).attr("height", h);

  // offset ticks
  const majors = d3.range(Math.ceil(a / step - 1e-9) * step, b + 1e-6, step);
  const minors = d3.range(Math.ceil(a / mstep - 1e-9) * mstep, b + 1e-6, mstep)
    .filter(v => Math.abs(v / step - Math.round(v / step)) > 1e-6);

  g.append("g").call(d3.axisTop(x).tickValues(majors).tickSize(6).tickPadding(8).tickFormat(d3.format("d"))).call(styleAxis);
  g.append("g").call(d3.axisTop(x).tickValues(minors).tickSize(3).tickFormat("")).call(styleAxis);
  g.append("g").attr("transform", `translate(0,${h})`)
    .call(d3.axisBottom(x).tickValues(majors).tickSize(6).tickFormat("")).call(styleAxis);
  g.append("g").attr("transform", `translate(0,${h})`)
    .call(d3.axisBottom(x).tickValues(minors).tickSize(3).tickFormat("")).call(styleAxis);

  // time ticks
  const tLab = last ? timeLabelsLast : timeLabels;
  const tAll = (last ? timeTicksLast : timeTicks).filter(v => !tLab.includes(v));
  g.append("g").call(d3.axisLeft(y).tickValues(tLab).tickSize(5).tickPadding(6)
    .tickFormat(col === 0 ? d3.format("d") : "")).call(styleAxis);
  g.append("g").call(d3.axisLeft(y).tickValues(tAll).tickSize(3).tickFormat("")).call(styleAxis);
  g.append("g").attr("transform", `translate(${panelW},0)`)
    .call(d3.axisRight(y).tickValues(tLab).tickSize(5).tickFormat("")).call(styleAxis);
  g.append("g").attr("transform", `translate(${panelW},0)`)
    .call(d3.axisRight(y).tickValues(tAll).tickSize(3).tickFormat("")).call(styleAxis);

  // frame
  g.append("rect").attr("x", 0.5).attr("y", 0.5).attr("width", panelW).attr("height", h)
    .attr("fill", "none").attr("stroke", "#000").attr("stroke-width", 1);

  const plot = g.append("g").attr("clip-path", `url(#${clipId})`);
  const traces = traceSets[i];

  // observed picks
  plot.selectAll("path.pick").data(traces.filter(t => t.band)).join("path")
    .attr("class", "pick")
    .attr("fill", "url(#picks)")
    .attr("d", t => d3.area()
      .x(d => x(d[0]))
      .y0(d => y(d[1] - t.band[0]))
      .y1(d => y(d[1] + t.band[1]))
      .curve(d3.curveLinear)(t.pts));

  // modelled branches
  const line = d3.line().x(d => x(d[0])).y(d => y(d[1]));
  plot.selectAll("path.branch").data(traces.filter(t => t.line !== false)).join("path")
    .attr("class", "branch")
    .attr("fill", "none").attr("stroke", "#000").attr("stroke-width", 2)
    .attr("stroke-linejoin", "round").attr("stroke-linecap", "round")
    .attr("d", t => line(t.pts));

  // phase names
  g.selectAll("text.phase").data(phaseSets[i]).join("text")
    .attr("class", "phase")
    .attr("x", d => x(d[1])).attr("y", d => y(d[2]))
    .attr("text-anchor", "middle").attr("dominant-baseline", "central")
    .text(d => d[0]);

  // station number
  g.append("text").attr("x", panelW - 5).attr("y", h - 3)
    .attr("text-anchor", "end").text(id);

  if (col === 0) {
    svg.append("text")
      .attr("transform", `translate(18,${rowTop[row] + h / 2 + 3}) rotate(-90)`)
      .attr("text-anchor", "middle").attr("dominant-baseline", "central")
      .text("t \u2013 x/8 [s]");
  }
});
</script>
</body>
</html>
